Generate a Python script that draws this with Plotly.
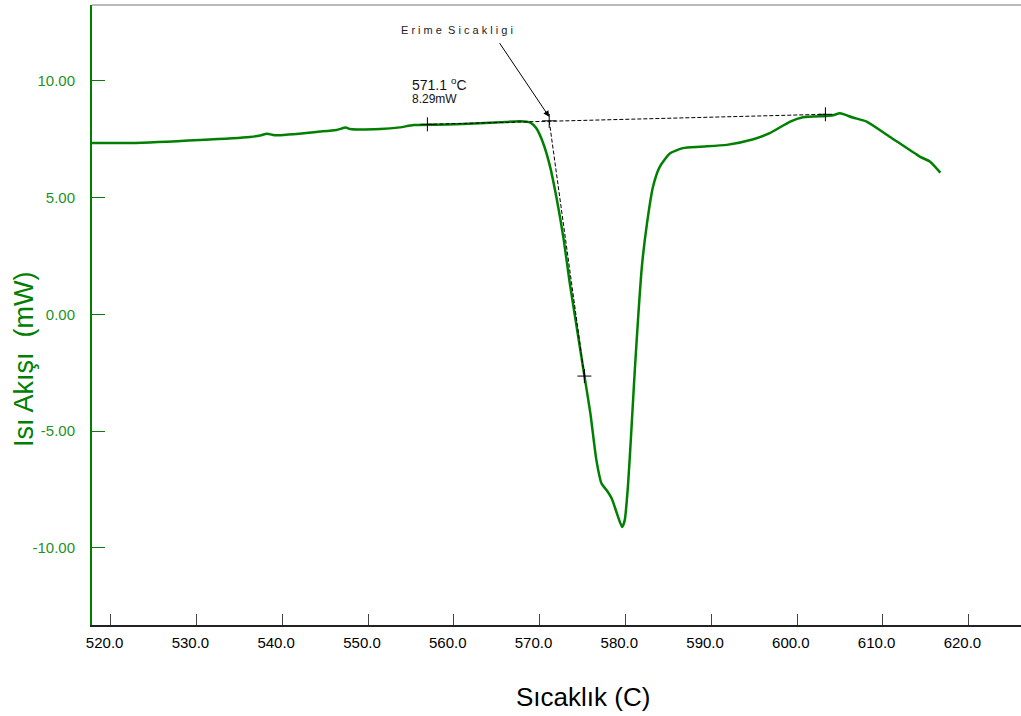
import plotly.graph_objects as go

# DSC curve (temperature in C, heat flow in mW)
temperature = [517.8, 522.2, 530.4, 536.2, 537.4, 538.2, 539.1, 544.4, 546.3, 547.4, 547.9,
               551.4, 553.7, 555.3, 559.2, 563.0, 565.4, 567.7, 568.9, 569.6, 570.4, 571.2,
               572.0, 572.8, 573.5, 574.3, 575.1, 575.9, 576.6, 577.2, 577.8, 578.4, 579.0,
               579.6, 579.9, 580.3, 580.7, 581.1, 581.5, 581.9, 582.5, 583.2, 584.0, 585.2,
               586.7, 588.7, 591.8, 594.9, 596.8, 599.2, 600.7, 603.4, 604.2, 605.0, 606.5,
               608.1, 610.8, 614.3, 615.5, 616.7]
heat_flow = [7.34, 7.34, 7.47, 7.60, 7.66, 7.74, 7.67, 7.83, 7.90, 8.00, 7.94,
             7.94, 8.01, 8.11, 8.13, 8.19, 8.23, 8.27, 8.21, 7.97, 7.33, 6.33,
             4.90, 3.18, 1.33, -0.53, -2.39, -4.24, -6.24, -7.24, -7.53, -7.89, -8.53,
             -9.10, -8.82, -7.24, -4.82, -2.25, 0.04, 2.04, 3.90, 5.47, 6.33, 6.90,
             7.12, 7.18, 7.26, 7.50, 7.76, 8.26, 8.44, 8.50, 8.53, 8.61, 8.43,
             8.26, 7.61, 6.76, 6.54, 6.07]

# onset construction
baseline_t = [556.9, 603.3]
baseline_h = [8.14, 8.57]
tangent_t = [571.1, 575.2]
tangent_h = [8.29, -2.64]
cross_t = [556.9, 571.1, 603.3, 575.2]
cross_h = [8.14, 8.29, 8.57, -2.64]

onset_temp = 571.1
onset_flow = 8.29

x_ticks = [520, 530, 540, 550, 560, 570, 580, 590, 600, 610, 620]
y_ticks = [-10, -5, 0, 5, 10]

GREEN = "#008000"
LABEL_GREEN = "#1e921e"
FONT = "Liberation Sans, Arial, sans-serif"

fig = go.Figure()
fig.add_trace(go.Scatter(x=temperature, y=heat_flow, mode="lines",
                         line=dict(color=GREEN, width=2.5, shape="spline", smoothing=0.6),
                         hoverinfo="skip"))
fig.add_trace(go.Scatter(x=baseline_t, y=baseline_h, mode="lines",
                         line=dict(color="black", width=1, dash="4px,2px")))
fig.add_trace(go.Scatter(x=tangent_t, y=tangent_h, mode="lines",
                         line=dict(color="black", width=1, dash="4px,2px")))
fig.add_trace(go.Scatter(x=cross_t, y=cross_h, mode="markers",
                         marker=dict(symbol="cross-thin", size=10,
                                     line=dict(color="black", width=1))))

fig.add_annotation(x=onset_temp, y=8.46, ax=565.2, ay=11.68, xref="x", yref="y",
                   axref="x", ayref="y", showarrow=True, arrowhead=2, arrowsize=1.2,
                   arrowwidth=1, arrowcolor="black", text="")
fig.add_annotation(x=560.4, y=12.19, xref="x", yref="y", showarrow=False,
                   text="E r i m e  S i c a k l i g i",
                   font=dict(family=FONT, size=11, color="#222"))
fig.add_annotation(x=554.9, y=9.87, xref="x", yref="y", showarrow=False, xanchor="left",
                   text=f"{onset_temp} <sup>o</sup>C",
                   font=dict(family=FONT, size=14, color="#111"))
fig.add_annotation(x=554.9, y=9.23, xref="x", yref="y", showarrow=False, xanchor="left",
                   text=f"{onset_flow}mW",
                   font=dict(family=FONT, size=12, color="#111"))

# axis titles
fig.add_annotation(x=0, y=0.5, xref="paper", yref="paper", xanchor="center",
                   xshift=-68, yshift=-44, showarrow=False,
                   text="Isı Akışı  (mW)", textangle=-90,
                   font=dict(family=FONT, size=27, color=GREEN))
fig.add_annotation(x=0.528, y=0, xref="paper", yref="paper", yshift=-72, yanchor="middle",
                   showarrow=False,
                   text="Sıcaklık (C)", font=dict(family=FONT, size=26, color="black"))

# top border
fig.add_shape(type="line", xref="paper", yref="paper", x0=0, x1=1, y0=1, y1=1,
              line=dict(color="#777", width=1))

fig.update_layout(
    width=1021, height=716,
    margin=dict(l=92, r=0, t=5, b=91),
    paper_bgcolor="white", plot_bgcolor="white",
    showlegend=False,
    font=dict(family=FONT),
    xaxis=dict(range=[517.8, 626.1], tickvals=x_ticks,
               ticktext=[f"{v:.1f}\u00a0\u00a0\u00a0" for v in x_ticks],
               ticks="inside", ticklen=11, tickcolor="#444", tickwidth=1,
               showline=True, linecolor="#222", linewidth=1.5,
               showgrid=False, zeroline=False,
               tickfont=dict(family=FONT, size=15, color="black"),
               ticklabelstandoff=3),
    yaxis=dict(range=[-13.3, 13.25], tickvals=y_ticks,
               ticktext=[f"{v:.2f}" for v in y_ticks],
               ticks="inside", ticklen=13, tickcolor=GREEN, tickwidth=1,
               showline=True, linecolor=GREEN, linewidth=2,
               showgrid=False, zeroline=False,
               tickfont=dict(family=FONT, size=15, color=LABEL_GREEN),
               ticklabelstandoff=12),
)

fig.write_html("out.html")
